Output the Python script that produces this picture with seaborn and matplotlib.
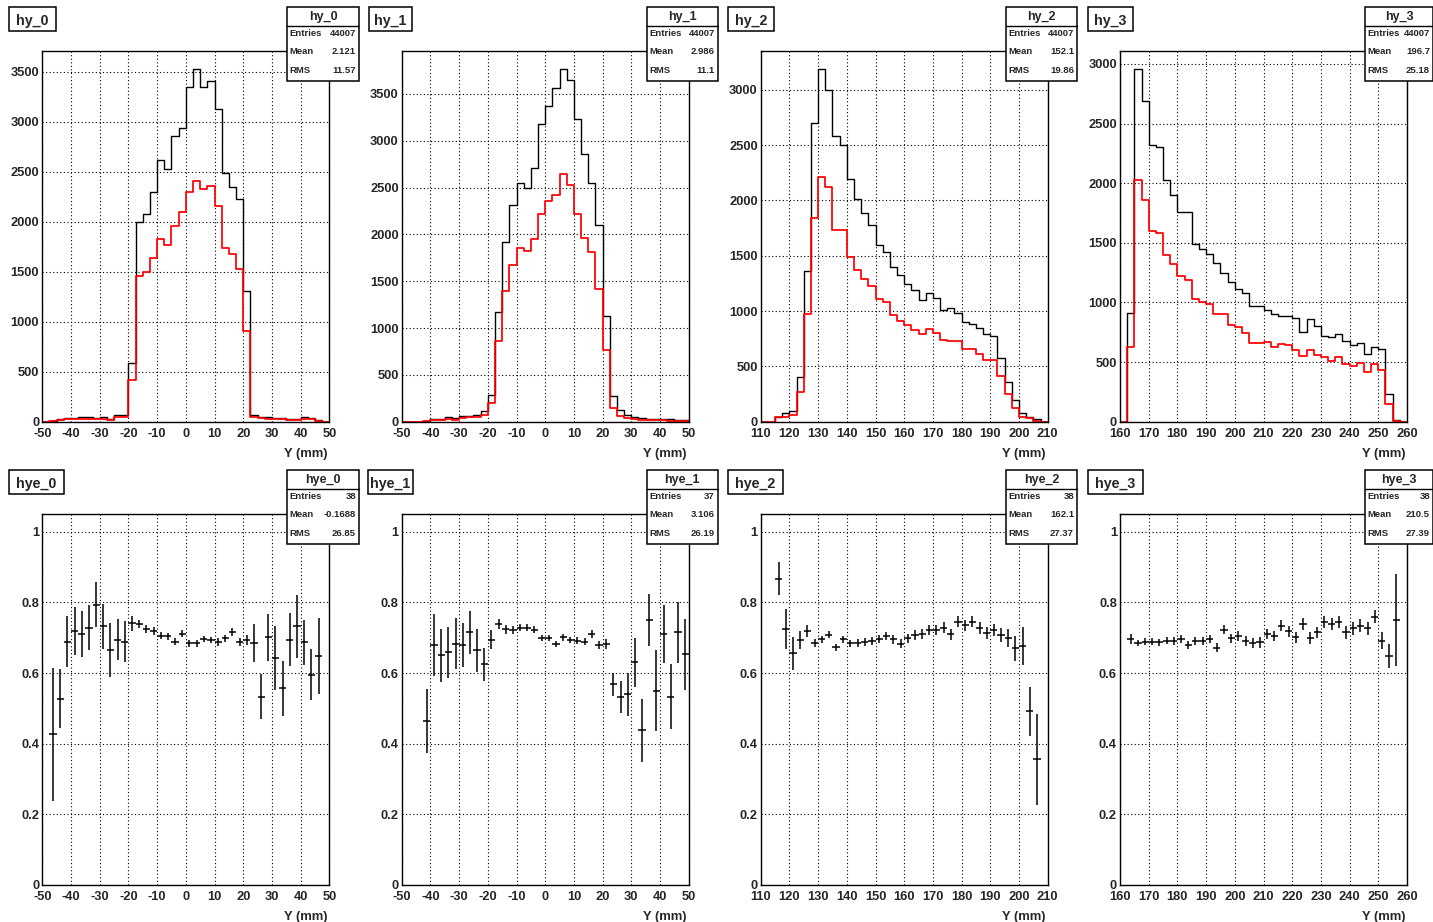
import numpy as np
import pandas as pd
import matplotlib
matplotlib.use("Agg")
import matplotlib.pyplot as plt
from matplotlib.patches import Rectangle
from matplotlib.lines import Line2D
from matplotlib.ticker import MultipleLocator, FuncFormatter
import seaborn as sns

# ---------------------------------------------------------------- data
# Y ranges (mm) of the four stations, 40 bins of 2.5 mm each
y_ranges = [(-50, 50), (-50, 50), (110, 210), (160, 260)]
n_bins = 40

# all tracks per bin (black) and tracks with a hit (red)
hy0_all = [0, 5, 25, 40, 40, 45, 45, 40, 45, 30, 65, 65, 585, 1995, 2075, 2300, 2620, 2530, 2860, 2940,
           3350, 3530, 3350, 3410, 3130, 2490, 2350, 2230, 1310, 70, 50, 45, 35, 40, 30, 25, 45, 40, 15, 0]
hy0_hit = [0, 5, 20, 30, 30, 30, 30, 30, 30, 20, 50, 45, 420, 1460, 1500, 1640, 1830, 1770, 1960, 2100,
           2300, 2410, 2330, 2360, 2160, 1740, 1680, 1530, 910, 50, 35, 30, 25, 25, 20, 20, 30, 30, 10, 0]
hy1_all = [0, 0, 0, 10, 25, 30, 45, 35, 60, 60, 70, 110, 290, 1170, 1920, 2310, 2550, 2500, 2710, 3180,
           3370, 3560, 3770, 3650, 3230, 2860, 2550, 2100, 1130, 270, 120, 70, 50, 40, 30, 25, 30, 25, 15, 15]
hy1_hit = [0, 0, 0, 5, 15, 20, 30, 20, 35, 45, 50, 70, 200, 860, 1400, 1670, 1850, 1820, 1950, 2220,
           2360, 2420, 2640, 2530, 2220, 1960, 1810, 1420, 770, 150, 65, 40, 30, 15, 15, 15, 15, 10, 10, 10]
hy2_all = [0, 0, 44, 75, 100, 400, 1360, 2700, 3190, 3000, 2580, 2500, 2190, 2010, 1890, 1780, 1600, 1530, 1400, 1330,
           1240, 1190, 1100, 1160, 1120, 1010, 1030, 980, 900, 880, 845, 790, 775, 580, 355, 195, 75, 45, 20, 0]
hy2_hit = [0, 0, 38, 45, 60, 270, 975, 1840, 2210, 2120, 1730, 1730, 1490, 1370, 1290, 1230, 1110, 1080, 960, 910,
           870, 830, 790, 835, 800, 740, 725, 725, 660, 660, 610, 560, 560, 410, 250, 125, 45, 35, 10, 0]
hy3_all = [0, 910, 2960, 2690, 2320, 2300, 2030, 1900, 1760, 1760, 1490, 1450, 1410, 1330, 1250, 1170, 1110, 1080, 970, 970,
           940, 900, 890, 890, 870, 750, 860, 800, 720, 710, 735, 680, 640, 660, 570, 630, 610, 230, 12, 0]
hy3_hit = [0, 630, 2030, 1860, 1600, 1580, 1400, 1320, 1220, 1190, 1030, 1000, 990, 900, 900, 810, 790, 740, 660, 660,
           670, 630, 650, 640, 600, 550, 600, 560, 540, 510, 540, 480, 470, 490, 420, 480, 430, 150, 9, 0]

# efficiency per bin, with its first filled bin index
hye0_first = 1
hye0_val = [0.426, 0.527, 0.689, 0.718, 0.710, 0.729, 0.794, 0.732, 0.666, 0.694, 0.689, 0.741, 0.739,
            0.724, 0.720, 0.706, 0.704, 0.689, 0.711, 0.684, 0.684, 0.697, 0.694, 0.688, 0.699, 0.716,
            0.688, 0.694, 0.685, 0.533, 0.701, 0.642, 0.557, 0.694, 0.732, 0.687, 0.595, 0.649]
hye0_err = [0.188, 0.084, 0.073, 0.068, 0.065, 0.064, 0.063, 0.063, 0.076, 0.058, 0.058, 0.021, 0.012,
            0.011, 0.011, 0.010, 0.010, 0.010, 0.010, 0.009, 0.009, 0.009, 0.009, 0.010, 0.010, 0.011,
            0.012, 0.015, 0.053, 0.064, 0.066, 0.091, 0.078, 0.075, 0.089, 0.064, 0.072, 0.108]
hye1_first = 3
hye1_val = [0.465, 0.680, 0.650, 0.659, 0.683, 0.680, 0.715, 0.664, 0.625, 0.694, 0.739, 0.724, 0.723,
            0.729, 0.729, 0.723, 0.699, 0.699, 0.682, 0.701, 0.694, 0.691, 0.689, 0.711, 0.680, 0.682,
            0.568, 0.533, 0.540, 0.630, 0.438, 0.751, 0.550, 0.711, 0.533, 0.715, 0.653]
hye1_err = [0.091, 0.088, 0.076, 0.072, 0.072, 0.062, 0.061, 0.060, 0.047, 0.027, 0.015, 0.012, 0.011,
            0.010, 0.010, 0.010, 0.009, 0.009, 0.009, 0.009, 0.009, 0.010, 0.010, 0.011, 0.012, 0.015,
            0.032, 0.045, 0.061, 0.070, 0.089, 0.073, 0.114, 0.083, 0.093, 0.086, 0.100]
hye2_first = 2
hye2_val = [0.867, 0.725, 0.656, 0.694, 0.718, 0.685, 0.696, 0.708, 0.673, 0.696, 0.685, 0.685, 0.688,
            0.691, 0.696, 0.705, 0.696, 0.683, 0.699, 0.708, 0.711, 0.721, 0.721, 0.729, 0.710, 0.746,
            0.735, 0.746, 0.729, 0.713, 0.723, 0.708, 0.699, 0.670, 0.677, 0.491, 0.356]
hye2_err = [0.047, 0.056, 0.046, 0.025, 0.017, 0.012, 0.010, 0.010, 0.010, 0.010, 0.010, 0.011, 0.011,
            0.011, 0.012, 0.012, 0.013, 0.013, 0.013, 0.014, 0.014, 0.014, 0.014, 0.015, 0.015, 0.016,
            0.016, 0.016, 0.017, 0.017, 0.017, 0.020, 0.025, 0.035, 0.054, 0.070, 0.129]
hye3_first = 1
hye3_val = [0.697, 0.685, 0.689, 0.689, 0.687, 0.692, 0.691, 0.697, 0.680, 0.691, 0.691, 0.697, 0.672,
            0.723, 0.699, 0.706, 0.692, 0.685, 0.687, 0.711, 0.705, 0.734, 0.718, 0.701, 0.739, 0.699,
            0.715, 0.746, 0.739, 0.746, 0.715, 0.727, 0.734, 0.727, 0.760, 0.692, 0.649, 0.751]
hye3_err = [0.015, 0.008, 0.009, 0.010, 0.010, 0.010, 0.011, 0.011, 0.011, 0.012, 0.012, 0.012, 0.013,
            0.013, 0.013, 0.014, 0.014, 0.015, 0.015, 0.015, 0.015, 0.015, 0.015, 0.016, 0.016, 0.016,
            0.016, 0.017, 0.017, 0.017, 0.018, 0.018, 0.018, 0.018, 0.019, 0.025, 0.034, 0.130]

hist_names = ["hy_0", "hy_1", "hy_2", "hy_3"]
eff_names = ["hye_0", "hye_1", "hye_2", "hye_3"]
hist_stats = [(44007, 2.121, 11.57), (44007, 2.986, 11.1), (44007, 152.1, 19.86), (44007, 196.7, 25.18)]
eff_stats = [(38, -0.1688, 26.85), (37, 3.106, 26.19), (38, 162.1, 27.37), (38, 210.5, 27.39)]

hist_all = [hy0_all, hy1_all, hy2_all, hy3_all]
hist_hit = [hy0_hit, hy1_hit, hy2_hit, hy3_hit]
eff_first = [hye0_first, hye1_first, hye2_first, hye3_first]
eff_val = [hye0_val, hye1_val, hye2_val, hye3_val]
eff_err = [hye0_err, hye1_err, hye2_err, hye3_err]

x_label = "Y (mm)"

# ---------------------------------------------------------------- layout (pixels)
W, H = 1433, 922
AX_LEFT = [42.3, 401.7, 760.7, 1120.0]
AX_W = 287.0
ROW_AX = [(51.0, 421.7), (514.3, 884.7)]
ROW_TOP = [0.0, 463.0]
TITLE_X = [[(9.0, 56.0), (368.7, 412.3), (728.0, 774.0), (1087.7, 1133.3)],
           [(9.0, 64.0), (368.3, 412.7), (728.0, 782.7), (1087.7, 1143.3)]]
STAT_X = [(287.0, 359.0), (646.7, 717.7), (1005.7, 1077.0), (1365.0, 1433.0)]

sns.set_style("white")
plt.rcParams["font.family"] = ["Liberation Sans", "DejaVu Sans"]
plt.rcParams["font.weight"] = "bold"
plt.rcParams["axes.unicode_minus"] = False

fig = plt.figure(figsize=(W / 100, H / 100), dpi=100)
fig.patch.set_facecolor("white")


def fx(x):
    return x / W


def fy(y):
    return 1.0 - y / H


def add_axes(col, row):
    x0 = AX_LEFT[col]
    y0, y1 = ROW_AX[row]
    return fig.add_axes([fx(x0), fy(y1), AX_W / W, (y1 - y0) / H])


def frame_box(x0, y0, x1, y1):
    fig.add_artist(Rectangle((fx(x0), fy(y1)), (x1 - x0) / W, (y1 - y0) / H,
                             transform=fig.transFigure, facecolor="white",
                             edgecolor="black", linewidth=1.1, zorder=20))


def title_box(col, row, name):
    x0, x1 = TITLE_X[row][col]
    y0 = ROW_TOP[row] + 7.0
    y1 = y0 + 24.0
    frame_box(x0, y0, x1, y1)
    fig.text(fx((x0 + x1) / 2), fy(y0 + 17.5), name, ha="center", va="baseline",
             fontsize=10.3, fontweight="bold", zorder=21)


def stats_box(col, row, name, stats):
    x0, x1 = STAT_X[col]
    top = ROW_TOP[row] + 7.0
    frame_box(x0, top, x1, top + 74.0)
    fig.add_artist(Line2D([fx(x0), fx(x1)], [fy(top + 19.0)] * 2, transform=fig.transFigure,
                          color="black", linewidth=1.0, zorder=21))
    fig.text(fx((x0 + x1) / 2), fy(top + 13.2), name, ha="center", va="baseline",
             fontsize=9.0, fontweight="bold", zorder=22)
    labels = ["Entries", "Mean", "RMS"]
    for lab, val, dy in zip(labels, stats, [29.2, 47.2, 66.2]):
        fig.text(fx(x0 + 2.5), fy(top + dy), lab, ha="left", va="baseline",
                 fontsize=6.8, fontweight="bold", zorder=22)
        fig.text(fx(x1 - 3.0), fy(top + dy), f"{val:g}", ha="right", va="baseline",
                 fontsize=6.8, fontweight="bold", zorder=22)


def style_axes(ax, lo, hi, ymax, ymajor, yminor, yfmt):
    ax.set_xlim(lo, hi)
    ax.set_ylim(0, ymax)
    ax.xaxis.set_major_locator(MultipleLocator(10))
    ax.xaxis.set_minor_locator(MultipleLocator(2))
    ax.yaxis.set_major_locator(MultipleLocator(ymajor))
    ax.yaxis.set_minor_locator(MultipleLocator(yminor))
    ax.xaxis.set_major_formatter(FuncFormatter(lambda v, p: f"{v:g}"))
    ax.yaxis.set_major_formatter(FuncFormatter(yfmt))
    ax.tick_params(axis="both", which="both", direction="in", top=False, right=False,
                   width=1.0, color="black", labelsize=9.3)
    ax.tick_params(axis="x", which="major", length=7.2, pad=4.6)
    ax.tick_params(axis="x", which="minor", length=4.0)
    ax.tick_params(axis="y", which="major", length=7.2, pad=2.2)
    ax.tick_params(axis="y", which="minor", length=4.0)
    for lab in ax.get_xticklabels() + ax.get_yticklabels():
        lab.set_fontweight("bold")
    ax.grid(True, which="major", color="black", linestyle=(0, (1, 2.2)), linewidth=0.8)
    ax.set_axisbelow(True)
    for sp in ax.spines.values():
        sp.set_visible(True)
        sp.set_color("black")
        sp.set_linewidth(1.0)
    ax.set_xlabel("")
    ax.set_ylabel("")


def axis_title(col, row):
    x_right = AX_LEFT[col] + AX_W - 2.0
    y = ROW_AX[row][1] + 35.0
    fig.text(fx(x_right), fy(y), x_label, ha="right", va="baseline",
             fontsize=9.4, fontweight="bold")


# ---------------------------------------------------------------- top row: Y distributions
for col in range(4):
    lo, hi = y_ranges[col]
    width = (hi - lo) / n_bins
    edges = np.linspace(lo, hi, n_bins + 1)
    centers = 0.5 * (edges[:-1] + edges[1:])
    df = pd.DataFrame({"y": centers,
                       "all": np.asarray(hist_all[col], dtype=float),
                       "hit": np.asarray(hist_hit[col], dtype=float)})
    ax = add_axes(col, 0)
    sns.histplot(data=df, x="y", weights="all", binwidth=width, binrange=(lo, hi),
                 element="step", fill=False, color="black", linewidth=1.0, ax=ax)
    sns.histplot(data=df, x="y", weights="hit", binwidth=width, binrange=(lo, hi),
                 element="step", fill=False, color="#ff0000", linewidth=1.25, ax=ax)
    style_axes(ax, lo, hi, 1.05 * max(hist_all[col]), 500, 100, lambda v, p: f"{v:g}")
    axis_title(col, 0)
    title_box(col, 0, hist_names[col])
    stats_box(col, 0, hist_names[col], hist_stats[col])

# ---------------------------------------------------------------- bottom row: efficiencies
for col in range(4):
    lo, hi = y_ranges[col]
    edges = np.linspace(lo, hi, n_bins + 1)
    centers = 0.5 * (edges[:-1] + edges[1:])
    half = 0.5 * (edges[1] - edges[0])
    first = eff_first[col]
    vals = np.asarray(eff_val[col])
    errs = np.asarray(eff_err[col])
    xs = centers[first:first + len(vals)]
    ax = add_axes(col, 1)
    ax.errorbar(xs, vals, xerr=half, yerr=errs, fmt="none", ecolor="black",
                elinewidth=1.1, capsize=0)
    style_axes(ax, lo, hi, 1.05, 0.2, 0.05, lambda v, p: f"{v:g}")
    axis_title(col, 1)
    title_box(col, 1, eff_names[col])
    stats_box(col, 1, eff_names[col], eff_stats[col])

fig.savefig("out.png", dpi=100, facecolor="white")
